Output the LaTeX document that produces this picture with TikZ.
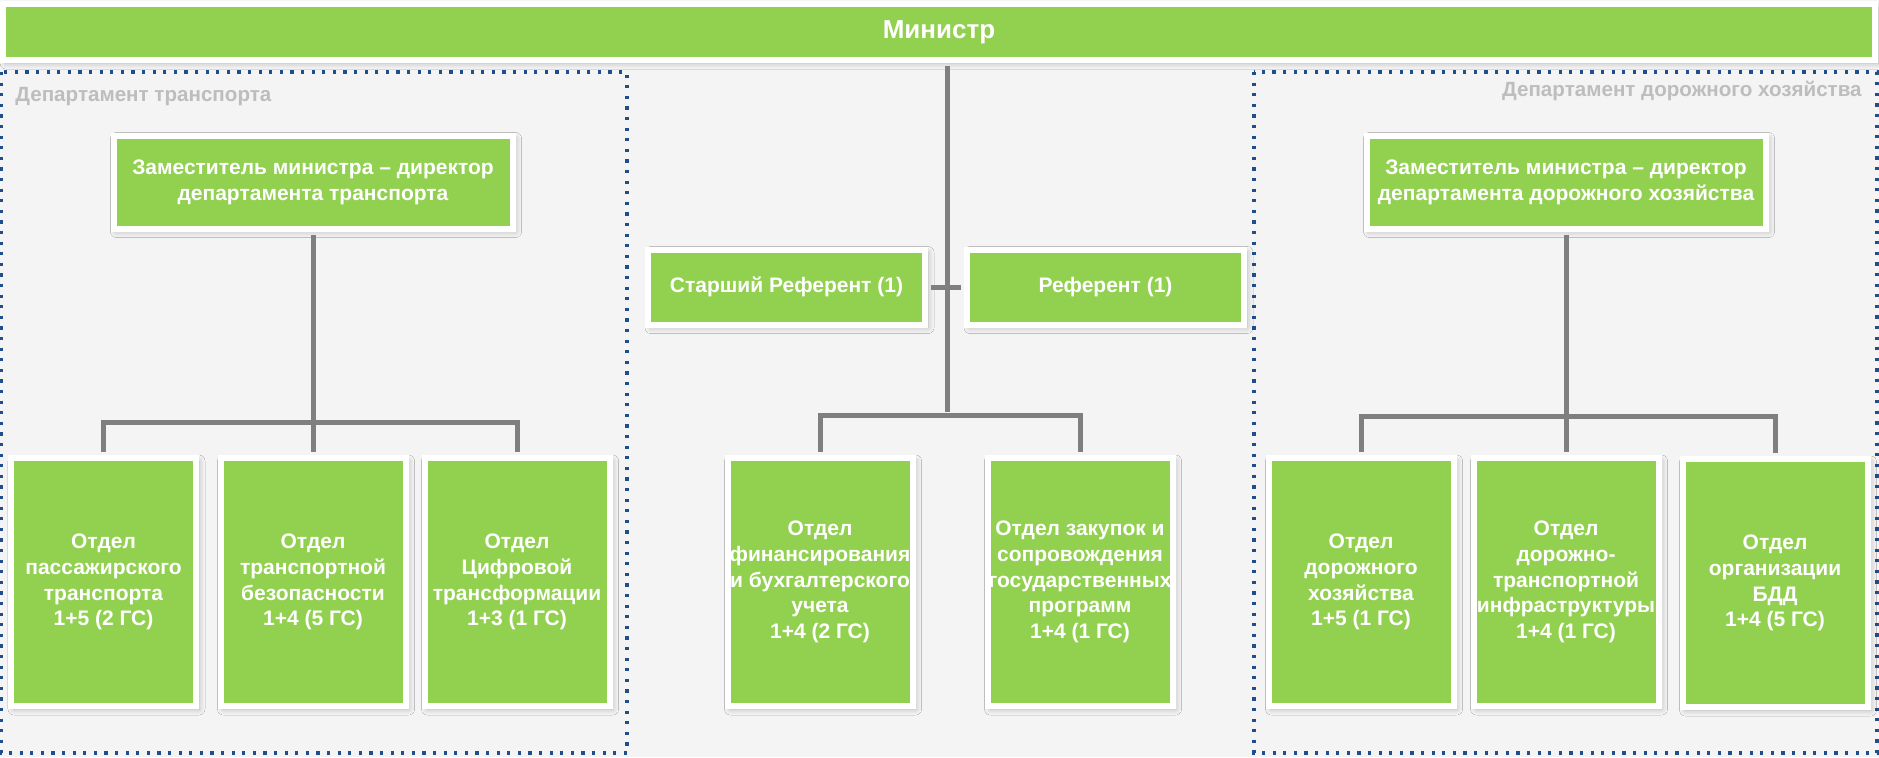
\documentclass[tikz,border=0pt]{standalone}
\usepackage{fontspec}
\setmainfont{Liberation Sans}
\usetikzlibrary{shadows.blur}

\definecolor{boxgreen}{HTML}{92D050}
\definecolor{linegray}{HTML}{7F7F7F}
\definecolor{dotblue}{HTML}{1F4E8C}
\definecolor{labelgray}{HTML}{BDBDBD}
\definecolor{bggray}{HTML}{F4F4F4}

\begin{document}
\begin{tikzpicture}[x=0.5pt,y=-0.5pt,
    box/.style={draw=white, line width=3pt, fill=boxgreen, text=white,
	font=\bfseries\fontsize{10.5}{12.9}\selectfont, align=center, inner sep=0pt,
	blur shadow={shadow xshift=1.5pt, shadow yshift=-1.5pt, shadow blur radius=3pt, shadow blur steps=8, shadow opacity=25}},
    otdel/.style={box, minimum width=92.5pt, minimum height=124pt},
    zam/.style={box, minimum width=199.5pt, minimum height=46.5pt, font=\bfseries\fontsize{10.5}{13}\selectfont},
    referent/.style={box, minimum width=138.5pt, minimum height=37.5pt},
    conn/.style={draw=linegray, line width=2.5pt, shorten <=1.5pt, shorten >=1.5pt},
    dept/.style={draw=dotblue, line width=1.6pt, dash pattern=on 1.6pt off 3.7pt},
    deptname/.style={text=labelgray, inner sep=0pt, font=\bfseries\fontsize{10.3}{12}\selectfont}]

    \fill[bggray] (0,0) rectangle (1879,757);
    \useasboundingbox (0,0) rectangle (1879,757);
    \draw[dept] (1,72) rectangle (627,753);
    \draw[dept] (1254,72) rectangle (1877,753);

    % top
    \node[box, minimum width=936pt, minimum height=28pt, font=\bfseries\fontsize{13}{15}\selectfont] (minister) at (939,32) {Министр};
    \node[deptname, anchor=west] (deptL) at (15,97) {Департамент транспорта};
    \node[deptname, anchor=east] (deptR) at (1862,91) {Департамент дорожного хозяйства};

    % left department
    \node[zam] (zamL) at (313,182) {Заместитель министра – директор\\департамента транспорта};
    \node[otdel] (o1) at (103.5,582) {Отдел\\пассажирского\\транспорта\\1+5 (2 ГС)};
    \node[otdel] (o2) at (313,582) {Отдел\\транспортной\\безопасности\\1+4 (5 ГС)};
    \node[otdel] (o3) at (517,582) {Отдел\\Цифровой\\трансформации\\1+3 (1 ГС)};

    % middle
    \node[referent] (ref1) at (786.5,287) {Старший Референт (1)};
    \node[referent] (ref2) at (1105.5,287) {Референт (1)};
    \node[otdel] (f1) at (820,582) {Отдел\\финансирования\\и бухгалтерского\\учета\\1+4 (2 ГС)};
    \node[otdel] (f2) at (1080,582) {Отдел закупок и\\сопровождения\\государственных\\программ\\1+4 (1 ГС)};

    % right department
    \node[zam] (zamR) at (1566,182) {Заместитель министра – директор\\департамента дорожного хозяйства};
    \node[otdel] (r1) at (1361,582) {Отдел\\дорожного\\хозяйства\\1+5 (1 ГС)};
    \node[otdel] (r2) at (1566,582) {Отдел\\дорожно-\\транспортной\\инфраструктуры\\1+4 (1 ГС)};
    \node[otdel] (r3) at (1775,583) {Отдел\\организации\\БДД\\1+4 (5 ГС)};

    \coordinate (busL) at (313,422);
    \coordinate (busM) at (947,415);
    \coordinate (busR) at (1566,416);

    \draw[conn] (zamL.south) -- (o2.north);
    \draw[conn] (o1.north) |- (busL) -| (o3.north);
    \draw[conn] (busM |- minister.south) -- (busM);
    \draw[conn] (ref1.east) -- (ref2.west);
    \draw[conn] (f1.north) |- (busM) -| (f2.north);
    \draw[conn] (zamR.south) -- (r2.north);
    \draw[conn] (r1.north) |- (busR) -| (r3.north);
\end{tikzpicture}
\end{document}
